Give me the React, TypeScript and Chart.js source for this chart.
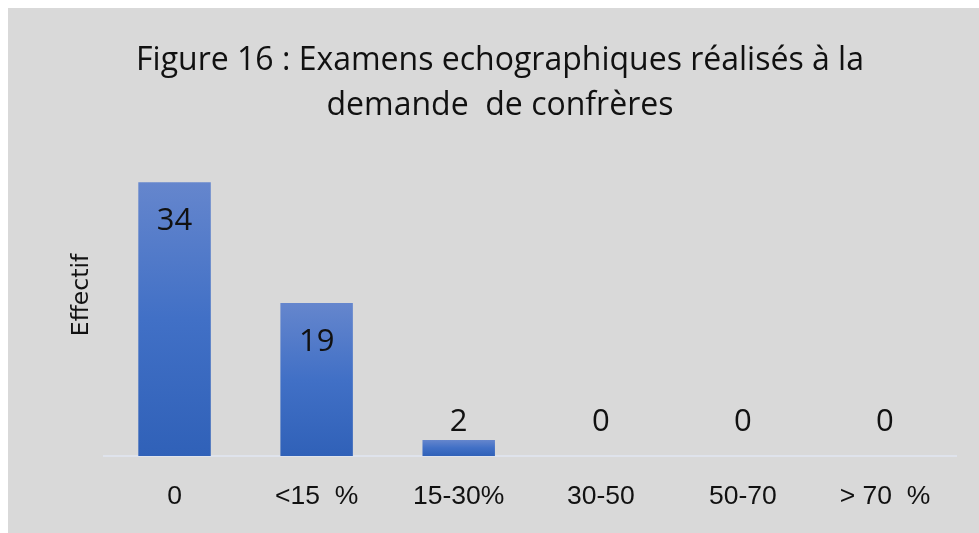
import React, { useEffect, useRef } from "react";
import { Chart, registerables } from "chart.js";

Chart.register(...registerables);

const titleLines = ["Figure 16 : Examens echographiques réalisés à la", "demande  de confrères"];
const categories = ["0", "<15  %", "15-30%", "30-50", "50-70", "> 70  %"];
const effectifs = [34, 19, 2, 0, 0, 0];
const yAxisTitle = "Effectif";

const valueLabelPlugin = {
  id: "valueLabels",
  afterDatasetsDraw(chart: any) {
    const { ctx } = chart;
    const meta = chart.getDatasetMeta(0);
    const yScale = chart.scales.y;
    const base = yScale.getPixelForValue(0);
    ctx.save();
    ctx.font = "31px 'Open Sans'";
    ctx.fillStyle = "#111111";
    ctx.textAlign = "center";
    ctx.textBaseline = "middle";
    meta.data.forEach((bar: any, i: number) => {
      const v = effectifs[i];
      const h = base - bar.y;
      const y = h > 60 ? bar.y + 39 : base - 34;
      ctx.fillText(String(v), bar.x, y);
    });
    ctx.restore();
  },
};

function barGradient(context: any) {
  const chart = context.chart;
  const yScale = chart.scales?.y;
  if (!yScale || !chart.chartArea) return "#4472c4";
  const v = context.raw as number;
  const top = yScale.getPixelForValue(v);
  const bottom = yScale.getPixelForValue(0);
  if (!isFinite(top) || !isFinite(bottom) || bottom - top < 1) return "#4472c4";
  const g = chart.ctx.createLinearGradient(0, top, 0, bottom);
  g.addColorStop(0, "#6586cd");
  g.addColorStop(0.5, "#4170c6");
  g.addColorStop(1, "#3061b8");
  return g;
}

export default function App() {
  const canvasRef = useRef<HTMLCanvasElement | null>(null);

  useEffect(() => {
    if (!canvasRef.current) return;
    const chart = new Chart(canvasRef.current, {
      type: "bar",
      data: {
        labels: categories,
        datasets: [
          {
            data: effectifs,
            backgroundColor: barGradient,
            borderWidth: 0,
            categoryPercentage: 1,
            barPercentage: 0.51,
          },
        ],
      },
      options: {
        animation: false,
        responsive: true,
        maintainAspectRatio: false,
        layout: { padding: { left: 36, right: 23, top: 0, bottom: 20 } },
        plugins: {
          legend: { display: false },
          tooltip: { enabled: false },
          title: {
            display: true,
            text: titleLines,
            color: "#111111",
            font: { family: "Open Sans", size: 32, weight: "normal", lineHeight: 45 / 32 },
            padding: { top: 30, bottom: 6 },
          },
        },
        scales: {
          x: {
            grid: { display: false, drawTicks: false, tickLength: 0 },
            border: { display: true, color: "#dfe3ec", width: 2 },
            ticks: {
              color: "#111111",
              font: { family: "Liberation Sans", size: 26.5, lineHeight: 1.2 },
              padding: 25,
              maxRotation: 0,
              autoSkip: false,
            },
            afterFit(scale: any) {
              scale.height = 57;
            },
          },
          y: {
            min: 0,
            max: 40,
            grid: { display: false, drawTicks: false, tickLength: 0 },
            border: { display: false },
            ticks: { display: false },
            title: {
              display: true,
              text: yAxisTitle,
              color: "#111111",
              font: { family: "DejaVu Sans", size: 23.5, lineHeight: 1.2 },
              padding: { top: 24, bottom: 0 },
            },
            afterFit(scale: any) {
              scale.width = 59.5;
            },
          },
        },
      },
      plugins: [valueLabelPlugin],
    });
    return () => chart.destroy();
  }, []);

  return (
    <div
      style={{
        position: "absolute",
        left: 8,
        top: 8,
        width: 971,
        height: 525,
        background: "#d9d9d9",
      }}
    >
      <canvas ref={canvasRef} />
    </div>
  );
}
